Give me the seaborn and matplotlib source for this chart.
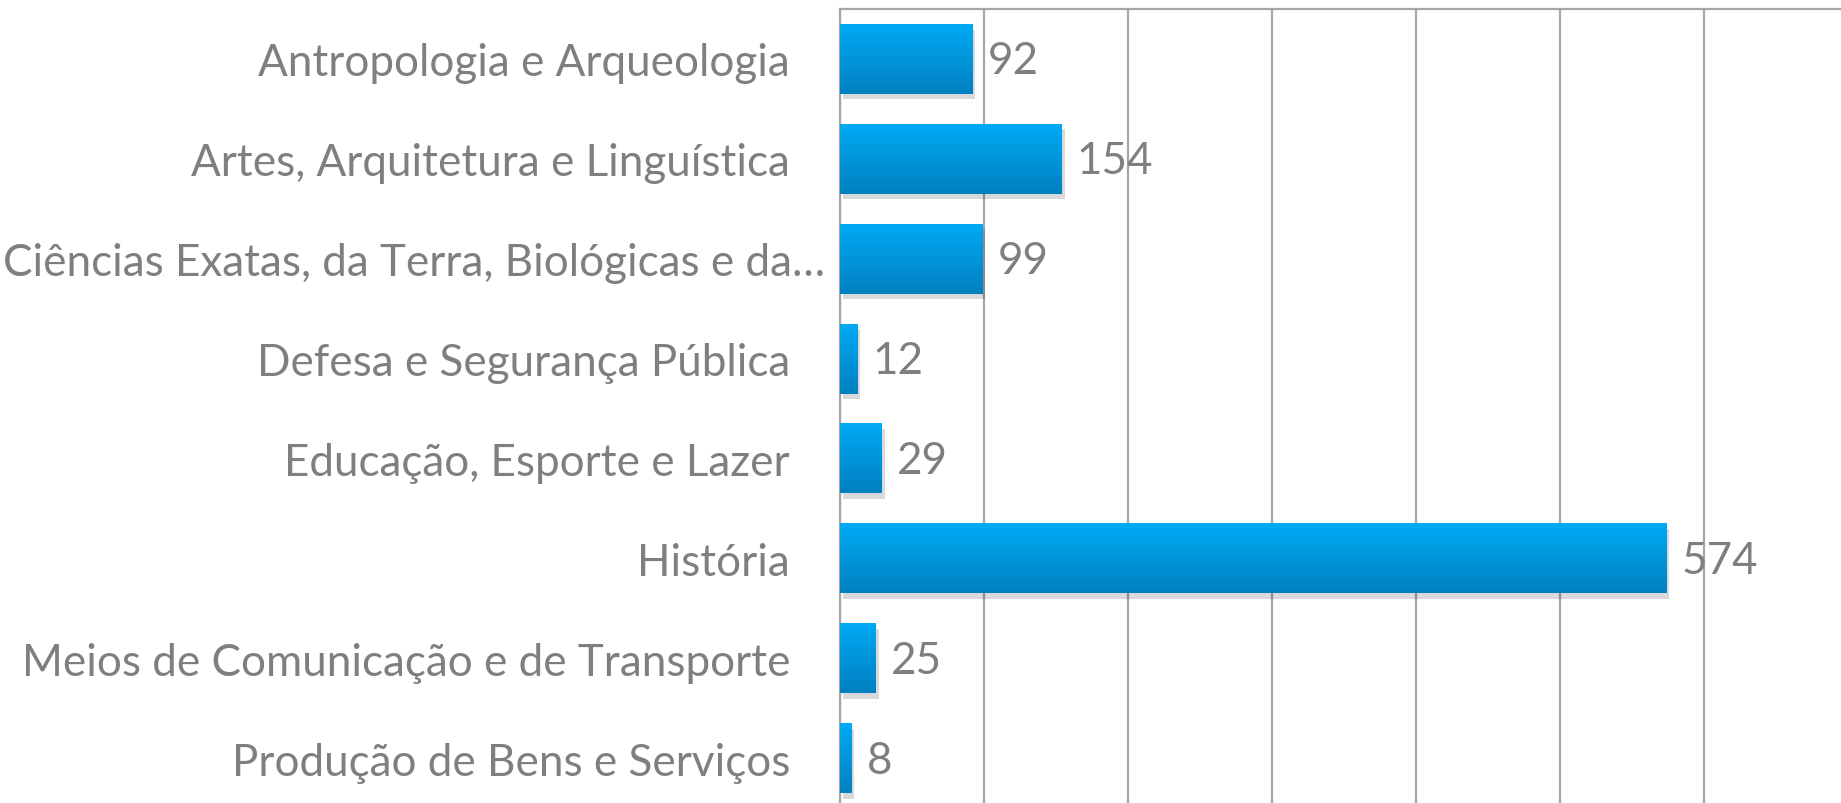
import numpy as np
import pandas as pd
import seaborn as sns
import matplotlib.pyplot as plt
import matplotlib.patheffects as pe
from matplotlib.colors import LinearSegmentedColormap
from matplotlib.transforms import ScaledTranslation

# Data
categorias = [
    'Antropologia e Arqueologia',
    'Artes, Arquitetura e Linguística',
    'Ciências Exatas, da Terra, Biológicas e da…',
    'Defesa e Segurança Pública',
    'Educação, Esporte e Lazer',
    'História',
    'Meios de Comunicação e de Transporte',
    'Produção de Bens e Serviços',
]
valores = [92, 154, 99, 12, 29, 574, 25, 8]

df = pd.DataFrame({'area': categorias, 'qtd': valores})

sns.set_style('white')
plt.rcParams['font.family'] = ['Lato', 'DejaVu Sans']
cinza = '#7F7F7F'
tam = 31.7

fig = plt.figure(figsize=(18.41, 8.04), dpi=100)
ax = fig.add_axes([840 / 1841, -5 / 804, 1008 / 1841, 799 / 804])

sns.barplot(data=df, x='qtd', y='area', orient='h', color='#0096DC',
            width=0.7, linewidth=0, ax=ax, zorder=3)

# gradiente + sombra em cada barra
grad = LinearSegmentedColormap.from_list('azul', ['#00AAF5', '#0080C0'])
img = np.linspace(0, 1, 256).reshape(-1, 1)
for bar in ax.patches:
    bar.set_path_effects([pe.SimplePatchShadow(offset=(2, -4), shadow_rgbFace='#000000', alpha=0.15),
                          pe.Normal()])
    x0, y0 = bar.get_x(), bar.get_y()
    w, h = bar.get_width(), bar.get_height()
    im = ax.imshow(img, cmap=grad, aspect='auto', extent=(x0, x0 + w, y0 + h, y0),
                   zorder=4, interpolation='bicubic')
    im.set_clip_path(bar)

ax.set_xlim(0, 700)
ax.set_ylim(len(categorias) - 0.5, -0.5)
ax.set_xticks(np.arange(0, 701, 100))
ax.xaxis.grid(True, color='#A6A6A6', linewidth=1.6, zorder=0)
ax.set_axisbelow(True)
ax.tick_params(axis='x', length=0, labelbottom=False)
ax.tick_params(axis='y', length=0, pad=36, labelsize=tam, labelcolor=cinza)
ax.set_xlabel('')
ax.set_ylabel('')

for s in ['right', 'bottom']:
    ax.spines[s].set_visible(False)
for s in ['left', 'top']:
    ax.spines[s].set_color('#A6A6A6')
    ax.spines[s].set_linewidth(1.6)

# rótulo truncado fica mais perto do eixo
lbl = ax.get_yticklabels()[2]
lbl.set_transform(lbl.get_transform() + ScaledTranslation(0.35, 0, fig.dpi_scale_trans))

for i, v in enumerate(valores):
    ax.annotate(str(v), (v, i), xytext=(15, -2), textcoords='offset pixels',
                va='center', ha='left', fontsize=tam, color=cinza, zorder=5)

fig.savefig('out.png', dpi=100)
